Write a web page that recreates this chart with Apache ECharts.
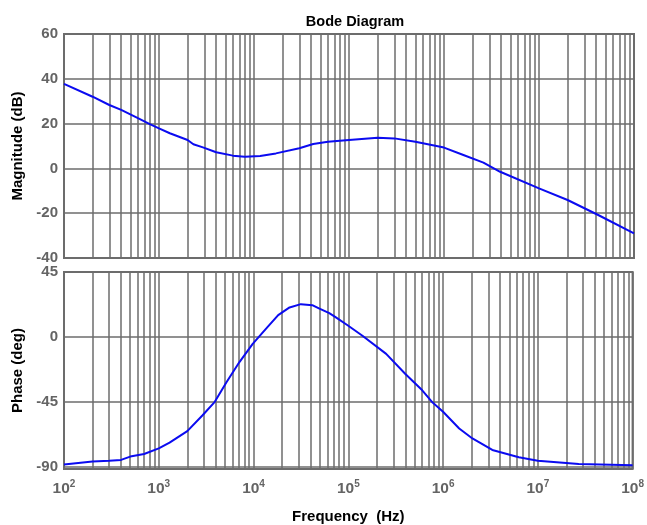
<!DOCTYPE html>
<html>
<head>
<meta charset="utf-8">
<script src="https://cdn.jsdelivr.net/npm/echarts@6/dist/echarts.min.js"></script>
<style>html,body{margin:0;padding:0;background:#fff}#c{width:647px;height:525px}</style>
</head>
<body>
<div id="c"></div>
<script>
var magFreq = [100,200,300,400,600,800,1000,1300,2000,2300,2900,4000,6000,8000,11600,17000,30000,42000,60000,100000,200000,300000,500000,1e6,1.6e6,2.6e6,3.9e6,1e7,2e7,4.2e7,1e8];
var magDb   = [37.7,32.0,28.3,26.1,22.4,19.8,17.9,15.7,12.7,10.8,9.4,7.2,5.7,5.2,5.5,6.7,9.0,10.9,11.9,12.7,13.7,13.4,11.9,9.3,6.0,2.6,-1.5,-8.9,-14.1,-20.8,-29.0];
var phaseFreq = [100,200,300,400,500,700,1000,1300,2000,2900,3900,5200,7100,9800,13500,18200,24000,31600,41700,49000,63000,74000,100000,141000,251000,398000,603000,776000,1e6,1.48e6,2.04e6,3.31e6,6.3e6,1e7,2.7e7,1e8];
var phaseDeg  = [-88.5,-86.5,-85.9,-85.4,-83.1,-81.3,-77.4,-73.4,-65.4,-54.4,-45.1,-31.3,-17.5,-4.9,5.5,15.1,20.4,22.7,22.0,19.7,16.5,13.5,7.7,0.8,-11.8,-25.6,-37.1,-45.6,-52.0,-63.6,-70.5,-78.5,-83.6,-85.9,-88.2,-89.1];
var decadeExps = [2,3,4,5,6,7,8];
var magTicks = [-40,-20,0,20,40,60];
var phaseTicks = [-90,-45,0,45];

var gridLines = [];
for (var e = 2; e < 8; e++) {
  for (var k = 1; k < 10; k++) gridLines.push(e + Math.log10(k));
}
gridLines.push(8);

function toPairs(fs, vs) {
  return fs.map(function (f, i) { return [Math.log10(f), vs[i]]; });
}

var gcol = '#6c6c6c';
var labelGray = '#646464';
var font = 'Liberation Sans, Arial, sans-serif';

function xAxis(gridIndex, showLabels) {
  return {
    type: 'value', gridIndex: gridIndex, min: 2, max: 8,
    axisLine: { show: false },
    axisTick: { show: false, customValues: gridLines },
    splitLine: { show: true, lineStyle: { color: gcol, width: 1.5 } },
    axisLabel: {
      show: showLabels, customValues: decadeExps, margin: 10,
      formatter: function (v) { return '{b|10}{s|' + Math.round(v) + '}'; },
      rich: {
        b: { fontSize: 15.5, fontWeight: 'bold', color: labelGray, fontFamily: font },
        s: { fontSize: 10, fontWeight: 'bold', color: labelGray, fontFamily: font, padding: [0, 0, 9, 0] }
      }
    },
    name: showLabels ? 'Frequency  (Hz)' : '',
    nameLocation: 'middle', nameGap: 40,
    nameTextStyle: { fontSize: 15, fontWeight: 'bold', color: '#000', fontFamily: font }
  };
}

var chart = echarts.init(document.getElementById('c'));
chart.setOption({
  animation: false,
  title: {
    text: 'Bode Diagram', left: 350, top: 9, textAlign: 'center',
    textStyle: { fontSize: 14.5, fontWeight: 'bold', color: '#000', fontFamily: font }
  },
  grid: [
    { left: 64, right: 13, top: 34, height: 224, show: true, borderColor: gcol, borderWidth: 2, containLabel: false },
    { left: 64, right: 13, top: 272, height: 199, show: true, borderColor: gcol, borderWidth: 2, containLabel: false }
  ],
  xAxis: [xAxis(0, false), xAxis(1, true)],
  yAxis: [
    {
      type: 'value', gridIndex: 0, min: -40, max: 60,
      axisLine: { show: false },
      axisTick: { show: false, customValues: magTicks },
      splitLine: { show: true, lineStyle: { color: gcol, width: 1.5 } },
      axisLabel: { customValues: magTicks, fontSize: 15, fontWeight: 'bold', color: labelGray, fontFamily: font, margin: 6 },
      name: 'Magnitude (dB)', nameLocation: 'middle', nameGap: 36,
      nameTextStyle: { fontSize: 15, fontWeight: 'bold', color: '#000', fontFamily: font }
    },
    {
      type: 'value', gridIndex: 1, min: -91.7, max: 45,
      axisLine: { show: false },
      axisTick: { show: false, customValues: phaseTicks },
      splitLine: { show: true, lineStyle: { color: gcol, width: 1.5 } },
      axisLabel: { customValues: phaseTicks, fontSize: 15, fontWeight: 'bold', color: labelGray, fontFamily: font, margin: 6 },
      name: 'Phase (deg)', nameLocation: 'middle', nameGap: 36,
      nameTextStyle: { fontSize: 15, fontWeight: 'bold', color: '#000', fontFamily: font }
    }
  ],
  series: [
    { type: 'line', xAxisIndex: 0, yAxisIndex: 0, data: toPairs(magFreq, magDb), showSymbol: false, lineStyle: { color: '#0b0bf0', width: 2 }, itemStyle: { color: '#0b0bf0' } },
    { type: 'line', xAxisIndex: 1, yAxisIndex: 1, data: toPairs(phaseFreq, phaseDeg), showSymbol: false, lineStyle: { color: '#0b0bf0', width: 2 }, itemStyle: { color: '#0b0bf0' } }
  ]
});
</script>
</body>
</html>
